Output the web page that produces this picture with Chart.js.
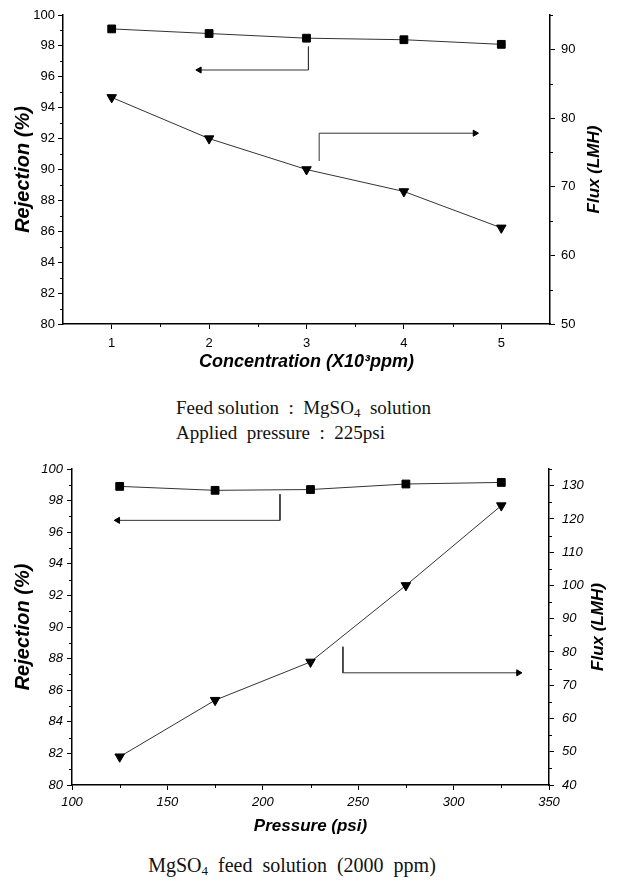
<!DOCTYPE html>
<html>
<head>
<meta charset="utf-8">
<script src="https://cdn.jsdelivr.net/npm/chart.js@4.4.1/dist/chart.umd.min.js"></script>
<style>
  body { margin: 0; background: #fff; width: 617px; height: 882px; position: relative; overflow: hidden; }
  canvas { position: absolute; left: 0; }
  .cap { position: absolute; font-family: "Liberation Serif", "Times New Roman", serif; font-size: 19px; color: #111; white-space: pre; line-height: 22px; }
  .cap sub { font-size: 13px; vertical-align: -3px; line-height: 0; }
</style>
</head>
<body>
<canvas id="chartA" width="617" height="380" style="top:0"></canvas>
<canvas id="chartB" width="617" height="390" style="top:450px"></canvas>
<div class="cap" style="left:176px; top:397px">Feed solution  :  MgSO<sub>4</sub>  solution</div>
<div class="cap" style="left:176px; top:422px">Applied  pressure  :  225psi</div>
<div class="cap" style="left:0; width:584px; text-align:center; top:854px; font-size:20px">MgSO<sub>4</sub>  feed  solution  (2000  ppm)</div>
<script>
// top chart: concentration series
const concentration = [1, 2, 3, 4, 5];
const rejectionConc = [99.1, 98.8, 98.5, 98.4, 98.1];
const fluxConc = [83, 77, 72.5, 69.3, 64];

// bottom chart: pressure series
const pressure = [125, 175, 225, 275, 325];
const rejectionPress = [98.9, 98.65, 98.7, 99.05, 99.15];
const fluxPress = [48.5, 65.5, 77, 100, 124];

// tick labels
const concTicks = [1, 2, 3, 4, 5];
const concMinor = [1.5, 2.5, 3.5, 4.5];
const rejTicks = [80, 82, 84, 86, 88, 90, 92, 94, 96, 98, 100];
const rejMinor = [81, 83, 85, 87, 89, 91, 93, 95, 97, 99];
const fluxTicksA = [50, 60, 70, 80, 90];
const fluxMinorA = [55, 65, 75, 85, 95];
const pressTicks = [100, 150, 200, 250, 300, 350];
const pressMinor = [125, 175, 225, 275, 325];
const fluxTicksB = [40, 50, 60, 70, 80, 90, 100, 110, 120, 130];
const fluxMinorB = [45, 55, 65, 75, 85, 95, 105, 115, 125, 135];

// "which axis" arrows, in data units (on the rejection axis)
const arrowRejA = [[3.02, 97.95], [3.02, 96.44], [1.9, 96.44]];
const arrowFluxA = [[3.13, 90.55], [3.13, 92.35], [4.73, 92.35]];
const arrowRejB = [[209, 98.4], [209, 96.75], [124, 96.75]];
const arrowFluxB = [[242, 88.75], [242, 87.1], [334, 87.1]];

const SANS = '"Liberation Sans", Arial, sans-serif';
Chart.defaults.color = '#000';

const axisExtras = {
  id: 'axisExtras',
  afterDraw(chart, args, opts) {
    const ctx = chart.ctx;
    ctx.save();
    ctx.strokeStyle = '#000';
    ctx.lineWidth = 1;
    for (const [id, vals] of Object.entries(opts.minor || {})) {
      const s = chart.scales[id];
      vals.forEach(v => {
        const p = Math.round(s.getPixelForValue(v)) + 0.5;
        ctx.beginPath();
        if (s.isHorizontal()) { ctx.moveTo(p, s.top); ctx.lineTo(p, s.top + 3); }
        else if (s.position === 'left') { ctx.moveTo(s.right, p); ctx.lineTo(s.right - 3, p); }
        else { ctx.moveTo(s.left, p); ctx.lineTo(s.left + 3, p); }
        ctx.stroke();
      });
    }
    if (opts.rightTitle) {
      const a = chart.chartArea;
      ctx.translate(opts.rightTitle.x, (a.top + a.bottom) / 2);
      ctx.rotate(-Math.PI / 2);
      ctx.font = 'italic bold 17px ' + SANS;
      ctx.textAlign = 'center';
      ctx.textBaseline = 'middle';
      ctx.fillStyle = '#000';
      ctx.fillText(opts.rightTitle.text, 0, 0);
    }
    ctx.restore();
  }
};

function pts(xs, ys) { return xs.map((x, i) => ({ x: x, y: ys[i] })); }

function series(data, axis, style, rot) {
  return {
    data: data, yAxisID: axis,
    borderColor: '#333', borderWidth: 1, tension: 0,
    pointStyle: style, rotation: rot, pointRadius: 5.5,
    pointBackgroundColor: '#000', pointBorderColor: '#000', pointBorderWidth: 1
  };
}

function arrow(list, dir) {
  return {
    data: list.map(p => ({ x: p[0], y: p[1] })), yAxisID: 'y',
    borderColor: '#333', borderWidth: 1, tension: 0,
    pointStyle: 'triangle', rotation: dir,
    pointRadius: c => c.dataIndex === list.length - 1 ? 3.5 : 0,
    pointBackgroundColor: '#000', pointBorderColor: '#000', pointBorderWidth: 1
  };
}

function fixedTicks(list) {
  return s => { s.ticks = list.map(v => ({ value: v })); };
}

function axis(opts) {
  return {
    type: 'linear', position: opts.position, min: opts.min, max: opts.max,
    afterBuildTicks: fixedTicks(opts.ticks),
    afterFit: s => { if (s.isHorizontal()) s.height = opts.size; else s.width = opts.size; },
    ticks: { font: opts.font, padding: opts.pad, color: '#000', autoSkip: false, maxRotation: 0 },
    grid: { drawOnChartArea: false, drawTicks: true, tickLength: 5, color: '#000', tickWidth: 1 },
    border: { color: '#000', width: 1.5 },
    title: opts.title ? {
      display: true, text: opts.title, color: '#000',
      font: { family: SANS, size: opts.titleSize, weight: 'bold', style: 'italic' },
      padding: opts.titlePad
    } : { display: false }
  };
}

const fontA = { family: SANS, size: 13 };
const fontB = { family: SANS, size: 13, style: 'italic' };

new Chart(document.getElementById('chartA'), {
  type: 'line',
  data: {
    datasets: [
      series(pts(concentration, rejectionConc), 'y', 'rect', 0),
      series(pts(concentration, fluxConc), 'y1', 'triangle', 180),
      arrow(arrowRejA, -90),
      arrow(arrowFluxA, 90)
    ]
  },
  options: {
    responsive: false, animation: false,
    layout: { padding: { top: 15, left: 0, right: 0, bottom: 0 } },
    plugins: {
      legend: { display: false }, tooltip: { enabled: false },
      axisExtras: { minor: { x: concMinor, y: rejMinor, y1: fluxMinorA }, rightTitle: { text: 'Flux (LMH)', x: 594 } }
    },
    scales: {
      x: axis({ position: 'bottom', min: 0.5, max: 5.5, ticks: concTicks, size: 56, font: fontA, pad: 7,
        title: 'Concentration (X10³ppm)', titleSize: 18, titlePad: { top: 0, bottom: 7 } }),
      y: axis({ position: 'left', min: 80, max: 100, ticks: rejTicks, size: 63, font: fontA, pad: 3,
        title: 'Rejection (%)', titleSize: 20, titlePad: { top: 11, bottom: 0 } }),
      y1: axis({ position: 'right', min: 50, max: 95, ticks: fluxTicksA, size: 67, font: fontA, pad: 6 })
    }
  },
  plugins: [axisExtras]
});

new Chart(document.getElementById('chartB'), {
  type: 'line',
  data: {
    datasets: [
      series(pts(pressure, rejectionPress), 'y', 'rect', 0),
      series(pts(pressure, fluxPress), 'y1', 'triangle', 180),
      arrow(arrowRejB, -90),
      arrow(arrowFluxB, 90)
    ]
  },
  options: {
    responsive: false, animation: false,
    layout: { padding: { top: 19, left: 0, right: 0, bottom: 0 } },
    plugins: {
      legend: { display: false }, tooltip: { enabled: false },
      axisExtras: { minor: { x: pressMinor, y: rejMinor, y1: fluxMinorB }, rightTitle: { text: 'Flux (LMH)', x: 598 } }
    },
    scales: {
      x: axis({ position: 'bottom', min: 100, max: 350, ticks: pressTicks, size: 55, font: fontB, pad: 5,
        title: 'Pressure (psi)', titleSize: 17, titlePad: { top: 0, bottom: 3 } }),
      y: axis({ position: 'left', min: 80, max: 100, ticks: rejTicks, size: 72, font: fontB, pad: 4,
        title: 'Rejection (%)', titleSize: 20, titlePad: { top: 11, bottom: 0 } }),
      y1: axis({ position: 'right', min: 40, max: 135, ticks: fluxTicksB, size: 68, font: fontB, pad: 8 })
    }
  },
  plugins: [axisExtras]
});
</script>
</body>
</html>
